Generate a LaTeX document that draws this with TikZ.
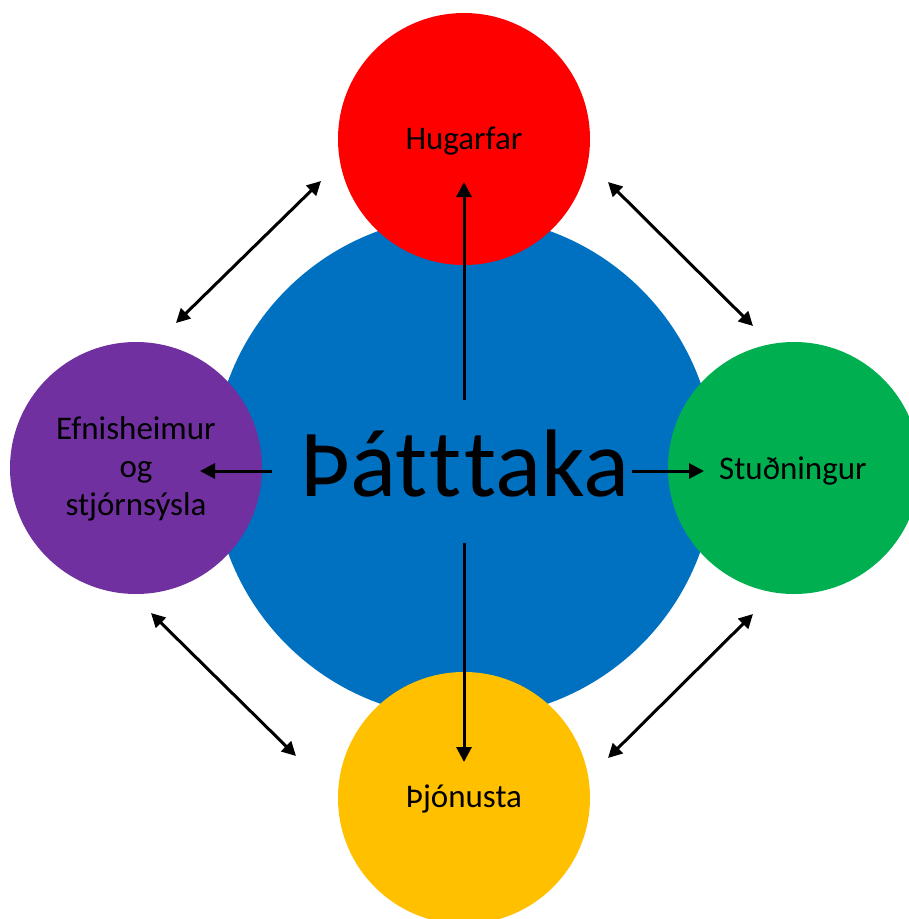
\documentclass[tikz,border=0pt]{standalone}
\usepackage{fontspec}
\setmainfont[RawFeature={-liga;-clig;-calt;-dlig}]{Carlito}
\usetikzlibrary{arrows.meta}
\definecolor{cblue}{HTML}{0070C0}
\definecolor{cred}{HTML}{FF0000}
\definecolor{cgreen}{HTML}{00B050}
\definecolor{cyellow}{HTML}{FFC000}
\definecolor{cpurple}{HTML}{7030A0}
\tikzset{
  disc/.style={circle, draw=none, inner sep=0pt, minimum size=252pt},
  lbl/.style={anchor=base, inner sep=0pt, font=\fontsize{33}{38}\selectfont, align=center},
  arr/.style={line width=3pt, -{Triangle[length=15pt,width=15pt]}},
  darr/.style={line width=3pt, {Triangle[length=14pt,width=14pt]}-{Triangle[length=14pt,width=14pt]}}
}
\begin{document}
\begin{tikzpicture}[x=1pt,y=-1pt]
\path[use as bounding box, clip] (0,0) rectangle (909,919);
% circles
\node[disc, fill=cblue, minimum size=502pt] (center) at (464,467) {};
\node[disc, fill=cred] (top) at (464,139) {};
\node[disc, fill=cyellow] (bottom) at (464,798) {};
\node[disc, fill=cpurple] (left) at (136,468) {};
\node[disc, fill=cgreen] (right) at (794,468) {};
% texts
\node[anchor=base, inner sep=0pt, font=\fontsize{96}{100}\selectfont] (ctext) at (465,496) {Þát\kern2.5ptt\kern2.5pttaka};
\node[lbl] (ttext) at (464,149) {Hugarfar};
\node[lbl] (btext) at (464,807) {Þjónusta};
\node[lbl] (rtext) at (793,479) {Stuðningur};
\node[lbl] (ltext) at (136,515) {Efnisheimur\\og\\stjórnsýsla};
% radial arrow endpoints
\coordinate (uS) at (464,400); \coordinate (uE) at (464,182);
\coordinate (dS) at (464,543); \coordinate (dE) at (464,762);
\coordinate (lS) at (272,471); \coordinate (lE) at (200,471);
\coordinate (rS) at (632,471); \coordinate (rE) at (704,471);
\draw[arr] (uS) -- (uE);
\draw[arr] (dS) -- (dE);
\draw[arr] (lS) -- (lE);
\draw[arr] (rS) -- (rE);
% diagonal double arrows
\coordinate (tl1) at (176,323); \coordinate (tl2) at (321,181);
\coordinate (tr1) at (608,182); \coordinate (tr2) at (753,326);
\coordinate (bl1) at (151,613); \coordinate (bl2) at (296,756);
\coordinate (br1) at (753,614); \coordinate (br2) at (608,758);
\draw[darr] (tl1) -- (tl2);
\draw[darr] (tr1) -- (tr2);
\draw[darr] (bl1) -- (bl2);
\draw[darr] (br1) -- (br2);
\end{tikzpicture}
\end{document}
